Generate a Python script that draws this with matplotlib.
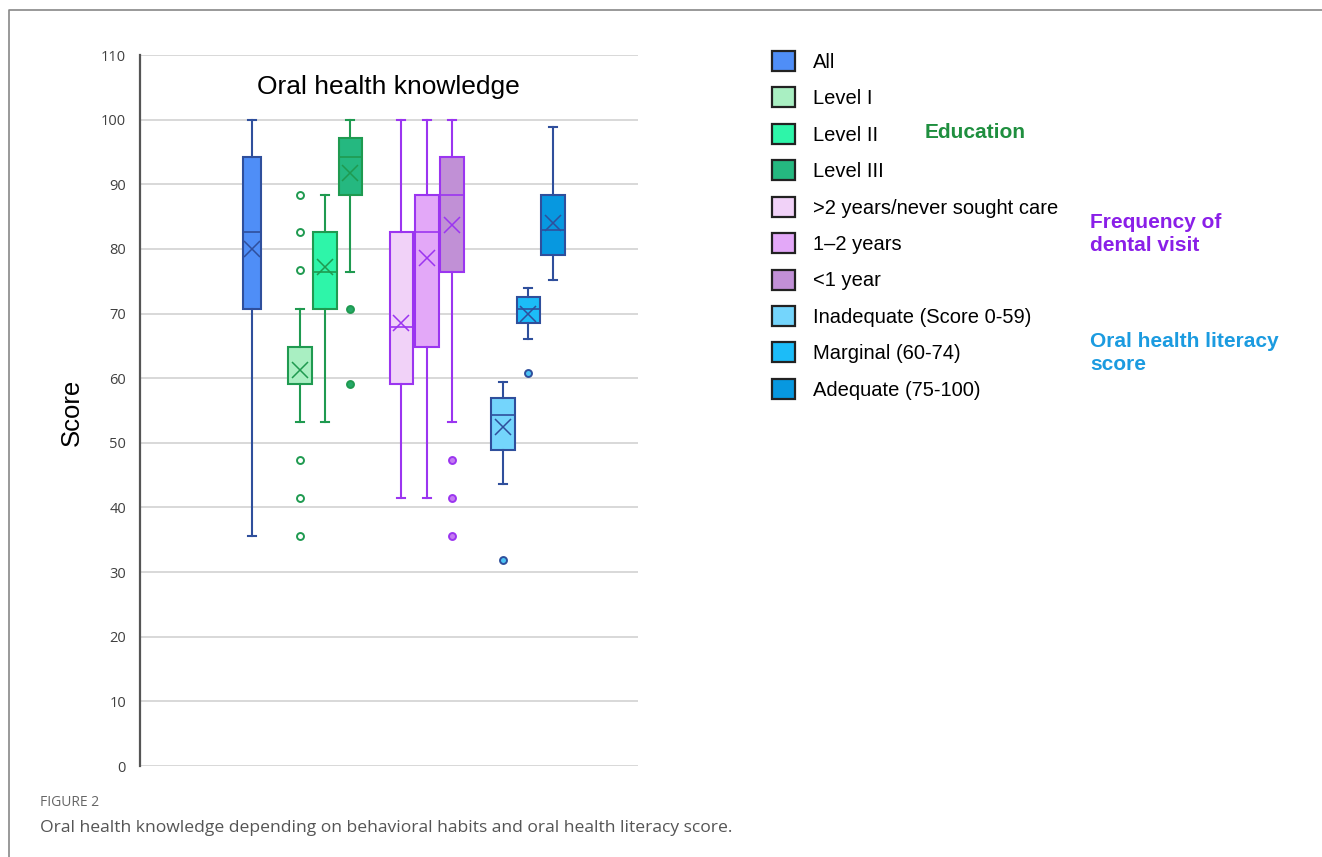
import matplotlib
matplotlib.use("Agg")
from matplotlib import pyplot as plt
from matplotlib.patches import Patch
from matplotlib.lines import Line2D

# values (score 0-100)
labels = ["All", "Level I", "Level II", "Level III",
          ">2 years/never sought care", "1\u20132 years", "<1 year",
          "Inadequate (Score 0-59)", "Marginal (60-74)", "Adequate (75-100)"]
q1 = [70.7, 59.1, 70.7, 88.3, 59.1, 64.8, 76.5, 48.9, 68.5, 79.1]
med = [82.6, 59.1, 76.5, 94.2, 67.9, 82.6, 88.3, 54.3, 70.7, 83.0]
q3 = [94.2, 64.8, 82.6, 97.2, 82.6, 88.3, 94.2, 56.9, 72.6, 88.3]
lo = [35.6, 53.2, 53.2, 76.5, 41.5, 41.5, 53.2, 43.7, 66.0, 75.2]
hi = [100, 70.7, 88.3, 100, 100, 100, 100, 59.4, 73.9, 98.8]
means = [80.0, 61.3, 77.2, 91.7, 68.5, 78.6, 83.7, 52.5, 70.0, 84.0]
outliers = [[], [88.3, 82.6, 76.7, 47.3, 41.5, 35.6], [], [70.7, 59.1],
            [], [], [47.3, 41.5, 35.6], [31.9], [60.8], []]

face = ["#4f8ef7", "#a9efc2", "#2ef5a9", "#25b880",
        "#f1d2f8", "#e3a8f8", "#c190d6",
        "#74d5fc", "#1cbcf8", "#0798e0"]
edge = ["#2f4f9c", "#1f9a50", "#1f9a50", "#1f9a50",
        "#9b35f0", "#9b35f0", "#9b35f0",
        "#2f4f9c", "#2f4f9c", "#2f4f9c"]
flier_face = ["none", "white", "none", "#25a868", "none", "none", "#c47cf2",
              "#4cc3f5", "#4cc3f5", "none"]

positions = [4.44, 6.35, 7.34, 8.35, 10.36, 11.39, 12.38, 14.4, 15.4, 16.39]
widths = [0.72] + [0.92] * 9

fig = plt.figure(figsize=(13.22, 8.57), dpi=100)
ax = fig.add_axes([140 / 1322, 1 - 766 / 857, 498 / 1322, 711 / 857])

for i in range(len(labels)):
    st = dict(q1=q1[i], med=med[i], q3=q3[i], whislo=lo[i], whishi=hi[i],
              mean=means[i], fliers=outliers[i], label=labels[i])
    ax.bxp([st], positions=[positions[i]], widths=[widths[i]], capwidths=[0.32],
           patch_artist=True, showmeans=True, manage_ticks=False,
           boxprops=dict(facecolor=face[i], edgecolor=edge[i], linewidth=1.5),
           medianprops=dict(color=edge[i], linewidth=1.2),
           whiskerprops=dict(color=edge[i], linewidth=1.5),
           capprops=dict(color=edge[i], linewidth=1.5),
           meanprops=dict(marker="x", markeredgecolor=edge[i], markersize=11,
                          markeredgewidth=1.1),
           flierprops=dict(marker="o", markerfacecolor=flier_face[i],
                           markeredgecolor=edge[i], markersize=5,
                           markeredgewidth=1.4))

ax.set_xlim(0, 19.76)
ax.set_ylim(0, 110)
ax.set_yticks(range(0, 111, 10))
ax.set_xticks([])
ax.grid(axis="y", color="#d6d6d6", linewidth=1.3)
ax.set_axisbelow(True)
for s in ["top", "right", "bottom"]:
    ax.spines[s].set_visible(False)
ax.spines["left"].set_color("#555555")
ax.spines["left"].set_linewidth(1.6)
ax.tick_params(axis="y", length=0, pad=10, labelsize=10.5, labelcolor="#404040")
for t in ax.get_yticklabels():
    t.set_family("Open Sans")

ax.text(0.235, 0.972, "Oral health knowledge", transform=ax.transAxes,
        fontsize=19, family="Liberation Sans", va="top")
fig.text(72 / 1322, 1 - 412 / 857, "Score", rotation=90, fontsize=18.5,
         family="Liberation Sans", ha="center", va="center")

handles = [Patch(facecolor=face[i], edgecolor="#222222", linewidth=1.6)
           for i in range(len(labels))]
leg = fig.legend(handles, labels, loc="upper left",
                 bbox_to_anchor=(764 / 1322, 1 - 43 / 857), frameon=False,
                 prop=dict(family="Liberation Sans", size=14.5),
                 handlelength=1.15, handleheight=1.15, handletextpad=0.9,
                 labelspacing=0.775, borderaxespad=0)

fig.text(925 / 1322, 1 - 133 / 857, "Education", color="#1f8f3f",
         fontsize=15, fontweight="bold", family="Liberation Sans", va="center")
fig.text(1090 / 1322, 1 - 234 / 857, "Frequency of\ndental visit", color="#8a1fe8",
         fontsize=15, fontweight="bold", family="Liberation Sans", va="center",
         linespacing=1.3)
fig.text(1090 / 1322, 1 - 353 / 857, "Oral health literacy\nscore", color="#1b9be0",
         fontsize=15, fontweight="bold", family="Liberation Sans", va="center",
         linespacing=1.3)

fig.text(40 / 1322, 1 - 802 / 857, "FIGURE 2", color="#666666", fontsize=10,
         family="Open Sans", va="center")
fig.text(40 / 1322, 1 - 828 / 857,
         "Oral health knowledge depending on behavioral habits and oral health literacy score.",
         color="#555555", fontsize=12.6, family="Open Sans", va="center")

# page frame (top and left edges)
fig.add_artist(Line2D([9 / 1322, 9 / 1322, 1], [0, 1 - 10 / 857, 1 - 10 / 857],
                      transform=fig.transFigure, color="#888888", linewidth=1.2))

fig.savefig("out.png", dpi=100)
